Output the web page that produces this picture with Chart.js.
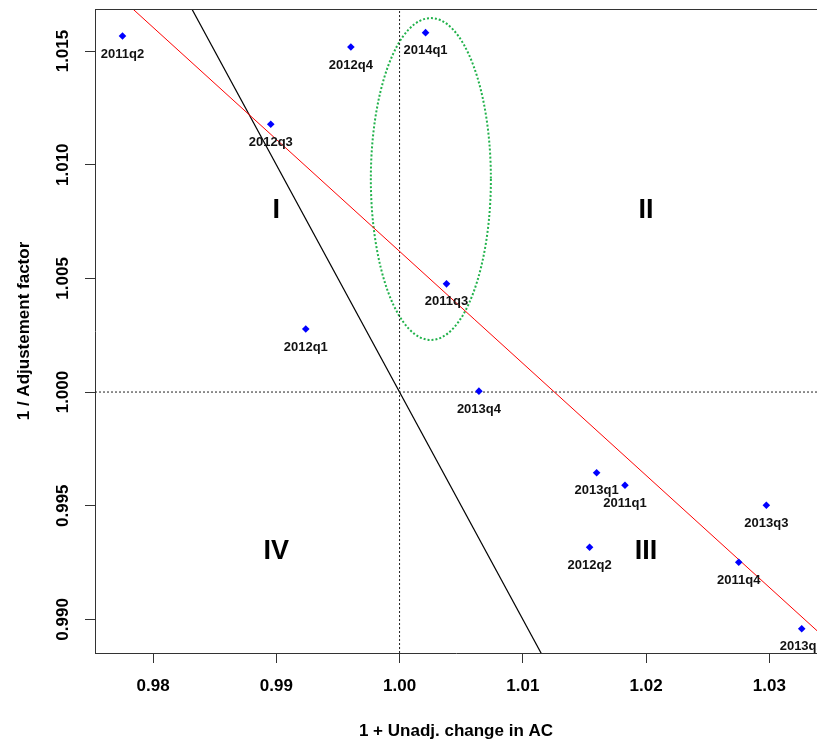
<!DOCTYPE html>
<html>
<head>
<meta charset="utf-8">
<script src="https://cdn.jsdelivr.net/npm/chart.js@4.4.1/dist/chart.umd.min.js"></script>
<style>
  body { margin: 0; background: #fff; }
  canvas { display: block; }
</style>
</head>
<body>
<canvas id="scatter" width="817" height="743"></canvas>
<script>
// quarters and their coordinates (1 + unadjusted change in AC, 1 / adjustment factor)
const quarters = ['2011q2', '2012q4', '2014q1', '2012q3', '2011q3', '2012q1', '2013q4',
    '2013q1', '2011q1', '2013q3', '2012q2', '2011q4', '2013q2'];
const changeAC = [0.97752, 0.99605, 1.00211, 0.98955, 1.00381, 0.99239, 1.00644,
    1.01599, 1.01829, 1.02976, 1.01542, 1.02752, 1.03263];
const adjFactor = [1.01566, 1.01518, 1.01581, 1.01178, 1.00476, 1.00277, 1.00004,
    0.99645, 0.99590, 0.99502, 0.99317, 0.99251, 0.98959];

// fitted (red) line and the 45 degree (black) line, given by end points
const redLineX = [0.97, 1.04];
const redLineY = [1.02097, 0.98648];
const blackLineX = [0.98, 1.02];
const blackLineY = [1.02, 0.98];

// axis ranges and ticks
const xRange = [0.97529, 1.03387];
const yRange = [0.98852, 1.01685];
const yTickLabels = ['0.990', '0.995', '1.000', '1.005', '1.010', '1.015'];

// quadrant names and where they sit
const quadrants = ['I', 'II', 'III', 'IV'];
const quadrantX = [0.99, 1.02, 1.02, 0.99];
const quadrantY = [1.008, 1.008, 0.993, 0.993];

// highlighted cluster (centre and half axes)
const ellipse = { cx: 1.00254, cy: 1.00937, rx: 0.00487, ry: 0.00708 };

const FONT = "'Liberation Sans', Arial, sans-serif";

const pts = changeAC.map((x, i) => ({ x: x, y: adjFactor[i] }));
const toPts = (xs, ys) => xs.map((x, i) => ({ x: x, y: ys[i] }));

const annotate = {
    id: 'annotate',
    beforeDatasetsDraw(chart) {
        const { ctx, chartArea: a, scales: { x, y } } = chart;
        ctx.save();
        ctx.beginPath();
        ctx.rect(a.left, a.top, a.right - a.left, a.bottom - a.top);
        ctx.clip();
        // green dotted ellipse
        const cx = x.getPixelForValue(ellipse.cx);
        const cy = y.getPixelForValue(ellipse.cy);
        const rx = x.getPixelForValue(ellipse.cx + ellipse.rx) - cx;
        const ry = cy - y.getPixelForValue(ellipse.cy + ellipse.ry);
        ctx.beginPath();
        ctx.ellipse(cx, cy, rx, ry, 0, 0, Math.PI * 2);
        ctx.strokeStyle = '#22b24c';
        ctx.lineWidth = 2;
        ctx.setLineDash([2, 2]);
        ctx.stroke();
        ctx.setLineDash([]);
        // quadrant numerals
        ctx.fillStyle = '#000';
        ctx.font = 'bold 27px ' + FONT;
        ctx.textAlign = 'center';
        ctx.textBaseline = 'middle';
        quadrants.forEach((q, i) => {
            ctx.fillText(q, x.getPixelForValue(quadrantX[i]), y.getPixelForValue(quadrantY[i]));
        });
        ctx.restore();
    },
    afterDatasetsDraw(chart) {
        const { ctx, chartArea: a, scales: { x, y } } = chart;
        ctx.save();
        ctx.beginPath();
        ctx.rect(a.left, a.top, a.right - a.left, a.bottom - a.top);
        ctx.clip();
        ctx.fillStyle = '#111';
        ctx.font = 'bold 13px ' + FONT;
        ctx.textAlign = 'center';
        ctx.textBaseline = 'middle';
        quarters.forEach((q, i) => {
            ctx.fillText(q, x.getPixelForValue(changeAC[i]), y.getPixelForValue(adjFactor[i]) + 18);
        });
        ctx.restore();
        // box top line
        ctx.save();
        ctx.strokeStyle = '#333';
        ctx.lineWidth = 1;
        ctx.beginPath();
        ctx.moveTo(a.left, a.top + 0.5);
        ctx.lineTo(a.right, a.top + 0.5);
        ctx.stroke();
        // y tick labels, rotated like R
        ctx.fillStyle = '#000';
        ctx.font = 'bold 17px ' + FONT;
        ctx.textAlign = 'center';
        ctx.textBaseline = 'middle';
        yTickLabels.forEach(t => {
            ctx.save();
            ctx.translate(63, y.getPixelForValue(parseFloat(t)));
            ctx.rotate(-Math.PI / 2);
            ctx.fillText(t, 0, 0);
            ctx.restore();
        });
        ctx.restore();
    }
};

new Chart(document.getElementById('scatter'), {
    type: 'scatter',
    data: {
        datasets: [{
            data: pts,
            pointStyle: 'rectRot',
            pointRadius: 3.8,
            backgroundColor: '#0000ff',
            borderColor: '#0000ff',
            borderWidth: 0
        }, {
            data: toPts(redLineX, redLineY),
            showLine: true,
            pointRadius: 0,
            borderColor: '#ff0000',
            borderWidth: 1
        }, {
            data: toPts(blackLineX, blackLineY),
            showLine: true,
            pointRadius: 0,
            borderColor: '#000000',
            borderWidth: 1.2
        }, {
            data: toPts([1, 1], yRange),
            showLine: true,
            pointRadius: 0,
            borderColor: '#222',
            borderWidth: 1,
            borderDash: [2, 2]
        }, {
            data: toPts(xRange, [1, 1]),
            showLine: true,
            pointRadius: 0,
            borderColor: '#222',
            borderWidth: 1,
            borderDash: [2, 2]
        }]
    },
    options: {
        responsive: false,
        animation: false,
        events: [],
        layout: { autoPadding: false, padding: { top: 9, right: 0, left: 0, bottom: 0 } },
        plugins: {
            legend: { display: false },
            tooltip: { enabled: false }
        },
        scales: {
            x: {
                type: 'linear',
                min: xRange[0],
                max: xRange[1],
                afterFit(s) { s.height = 90; },
                ticks: {
                    stepSize: 0.01,
                    includeBounds: false,
                    padding: 13,
                    color: '#000',
                    font: { family: FONT, size: 17, weight: 'bold' },
                    callback: v => v.toFixed(2)
                },
                grid: { drawOnChartArea: false, tickLength: 10, color: '#333' },
                border: { color: '#333', width: 1 },
                title: {
                    display: true,
                    text: '1 + Unadj. change in AC',
                    color: '#000',
                    font: { family: FONT, size: 17, weight: 'bold' },
                    padding: { top: 0, bottom: 1 }
                }
            },
            y: {
                type: 'linear',
                min: yRange[0],
                max: yRange[1],
                afterFit(s) { s.width = 95; },
                ticks: {
                    stepSize: 0.005,
                    includeBounds: false,
                    display: false
                },
                grid: { drawOnChartArea: false, tickLength: 10, color: '#333' },
                border: { color: '#333', width: 1 },
                title: {
                    display: true,
                    text: '1 / Adjustement factor',
                    color: '#000',
                    font: { family: FONT, size: 17, weight: 'bold' },
                    padding: { top: 14, bottom: 0 }
                }
            }
        }
    },
    plugins: [annotate]
});
</script>
</body>
</html>
